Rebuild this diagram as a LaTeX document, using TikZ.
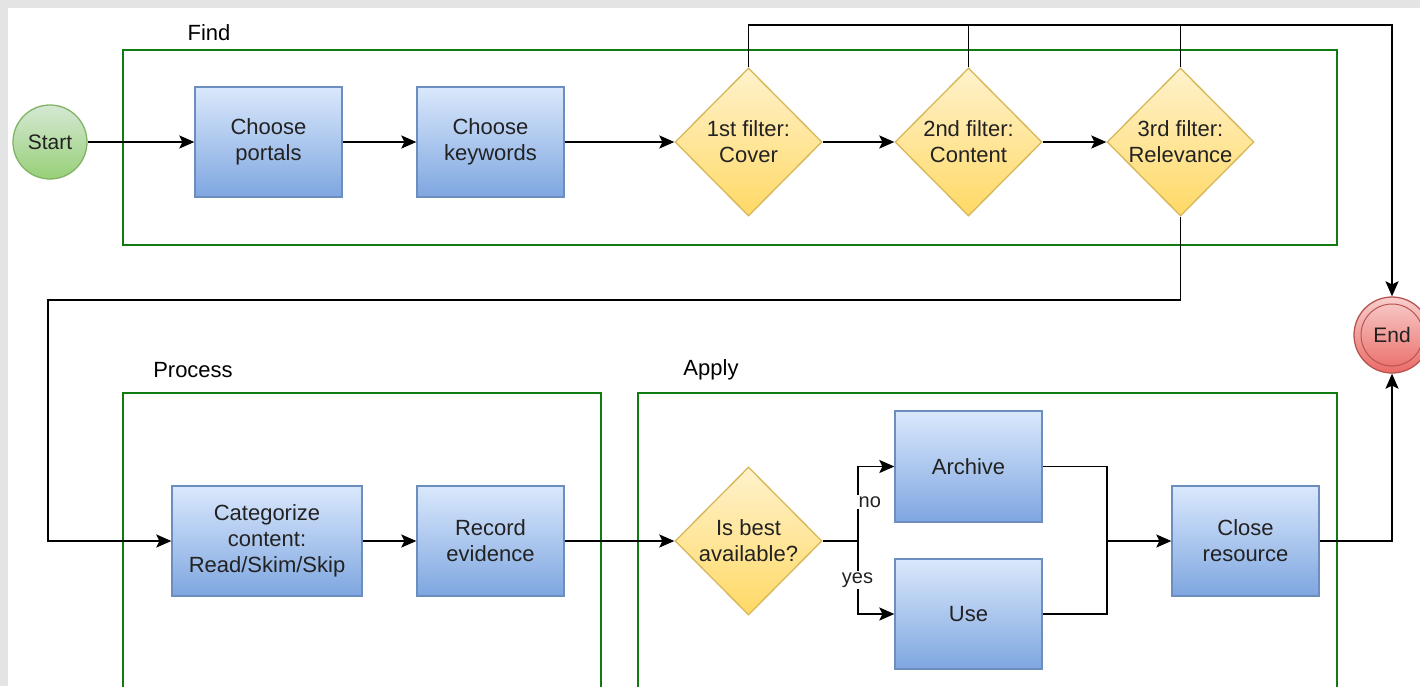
\documentclass[tikz,border=0pt]{standalone}
\usepackage{fontspec}
\setmainfont{Liberation Sans}
\usetikzlibrary{shapes.geometric,arrows.meta}
\definecolor{btop}{HTML}{DAE8FC}
\definecolor{bbot}{HTML}{7EA6E0}
\definecolor{bstroke}{HTML}{6C8EBF}
\definecolor{ytop}{HTML}{FFF2CC}
\definecolor{ybot}{HTML}{FFD966}
\definecolor{ystroke}{HTML}{D6B656}
\definecolor{gtop}{HTML}{D5E8D4}
\definecolor{gbot}{HTML}{97D077}
\definecolor{gstroke}{HTML}{82B366}
\definecolor{rtop}{HTML}{F8CECC}
\definecolor{rbot}{HTML}{EA6B66}
\definecolor{rstroke}{HTML}{B85450}
\definecolor{cont}{HTML}{117A11}
\definecolor{txt}{HTML}{222222}
\definecolor{margin}{HTML}{E4E4E4}
\begin{document}
\begin{tikzpicture}[x=1pt,y=-1pt,
  boxfont/.style={font=\fontsize{22}{26}\selectfont, text=txt},
  proc/.style={rectangle, draw=bstroke, line width=1.3pt, top color=btop, bottom color=bbot,
    minimum width=147pt, minimum height=110pt, inner sep=0pt, align=center, boxfont},
  dec/.style={diamond, draw=ystroke, line width=1.3pt, top color=ytop, bottom color=ybot,
    minimum width=147pt, minimum height=148pt, inner sep=0pt},
  dectext/.style={boxfont, align=center, inner sep=0pt},
  container/.style={draw=cont, line width=1.8pt},
  grouplabel/.style={font=\fontsize{22}{26}\selectfont, text=black, inner sep=0pt},
  arr/.style={draw=black, line width=1.9pt, -{Stealth[length=15pt,width=13pt,inset=3pt]}},
  conn/.style={draw=black, line width=1.9pt},
  edgelabel/.style={font=\fontsize{20}{24}\selectfont, text=txt, fill=white, inner sep=1.5pt}
]
\useasboundingbox (0,0) rectangle (1420,686);
\fill[margin] (0,0) rectangle (1420,686);
\fill[white] (8,8) rectangle (1420,686);

% containers
\draw[container] (123,50) rectangle (1337,245);
\draw[container] (123,393) rectangle (601,700);
\draw[container] (638,393) rectangle (1337,700);
\node[grouplabel] (findlbl) at (209,33) {Find};
\node[grouplabel] (proclbl) at (193,370) {Process};
\node[grouplabel] (applbl) at (711,370) {Apply};

% nodes
\node[circle, draw=gstroke, line width=1.3pt, top color=gtop, bottom color=gbot,
  minimum size=74pt, inner sep=0pt, font=\fontsize{21}{25}\selectfont, text=txt] (start) at (50,142) {Start};
\node[proc] (portals) at (268.5,142) {Choose\\portals};
\node[proc] (keywords) at (490.5,142) {Choose\\keywords};
\node[dec, label={[dectext]center:{1st filter:\\Cover}}] (d1) at (748.5,142) {};
\node[dec, label={[dectext]center:{2nd filter:\\Content}}] (d2) at (968.5,142) {};
\node[dec, label={[dectext]center:{3rd filter:\\Relevance}}] (d3) at (1180.5,142) {};

\node[circle, draw=rstroke, line width=1.3pt, top color=rtop, bottom color=rbot,
  minimum size=76pt, inner sep=0pt, font=\fontsize{21}{25}\selectfont, text=txt,
  path picture={\draw[rstroke, line width=1pt] (path picture bounding box.center) circle[radius=31pt];}] (end) at (1392,335) {End};

\node[proc, minimum width=190pt] (cat) at (267,541) {Categorize\\content:\\Read/Skim/Skip};
\node[proc] (rec) at (490.5,541) {Record\\evidence};
\node[dec, label={[dectext]center:{Is best\\available?}}] (best) at (748.5,541) {};
\node[proc, minimum height=111pt] (archive) at (968.5,466.5) {Archive};
\node[proc] (use) at (968.5,614) {Use};
\node[proc] (close) at (1245.5,541) {Close\\resource};

\coordinate (top) at (1392,25);
\coordinate (ret) at (48,300);
\coordinate (split) at (858,541);
\coordinate (merge) at (1107,541);

% connectors
\draw[arr] (start) -- (portals);
\draw[arr] (portals) -- (keywords);
\draw[arr] (keywords) -- (d1);
\draw[arr] (d1) -- (d2);
\draw[arr] (d2) -- (d3);
\draw[arr] (d1.north) |- (top) -- (end.north);
\draw[conn] (d2.north) -- (d2.north |- top);
\draw[conn] (d3.north) -- (d3.north |- top);
\draw[arr] (d3.south) |- (ret) |- (cat.west);
\draw[arr] (cat) -- (rec);
\draw[arr] (rec) -- (best);
\draw[conn] (best.east) -- (split);
\draw[arr] (split) |- (archive.west);
\draw[arr] (split) |- (use.west);
\draw[conn] (archive.east) -| (merge);
\draw[conn] (use.east) -| (merge);
\draw[arr] (merge) -- (close);
\draw[arr] (close.east) -| (end.south);

\node[edgelabel, anchor=west] (nolbl) at (857,502) {no};
\node[edgelabel] (yeslbl) at (857.5,580) {yes};
\end{tikzpicture}
\end{document}
